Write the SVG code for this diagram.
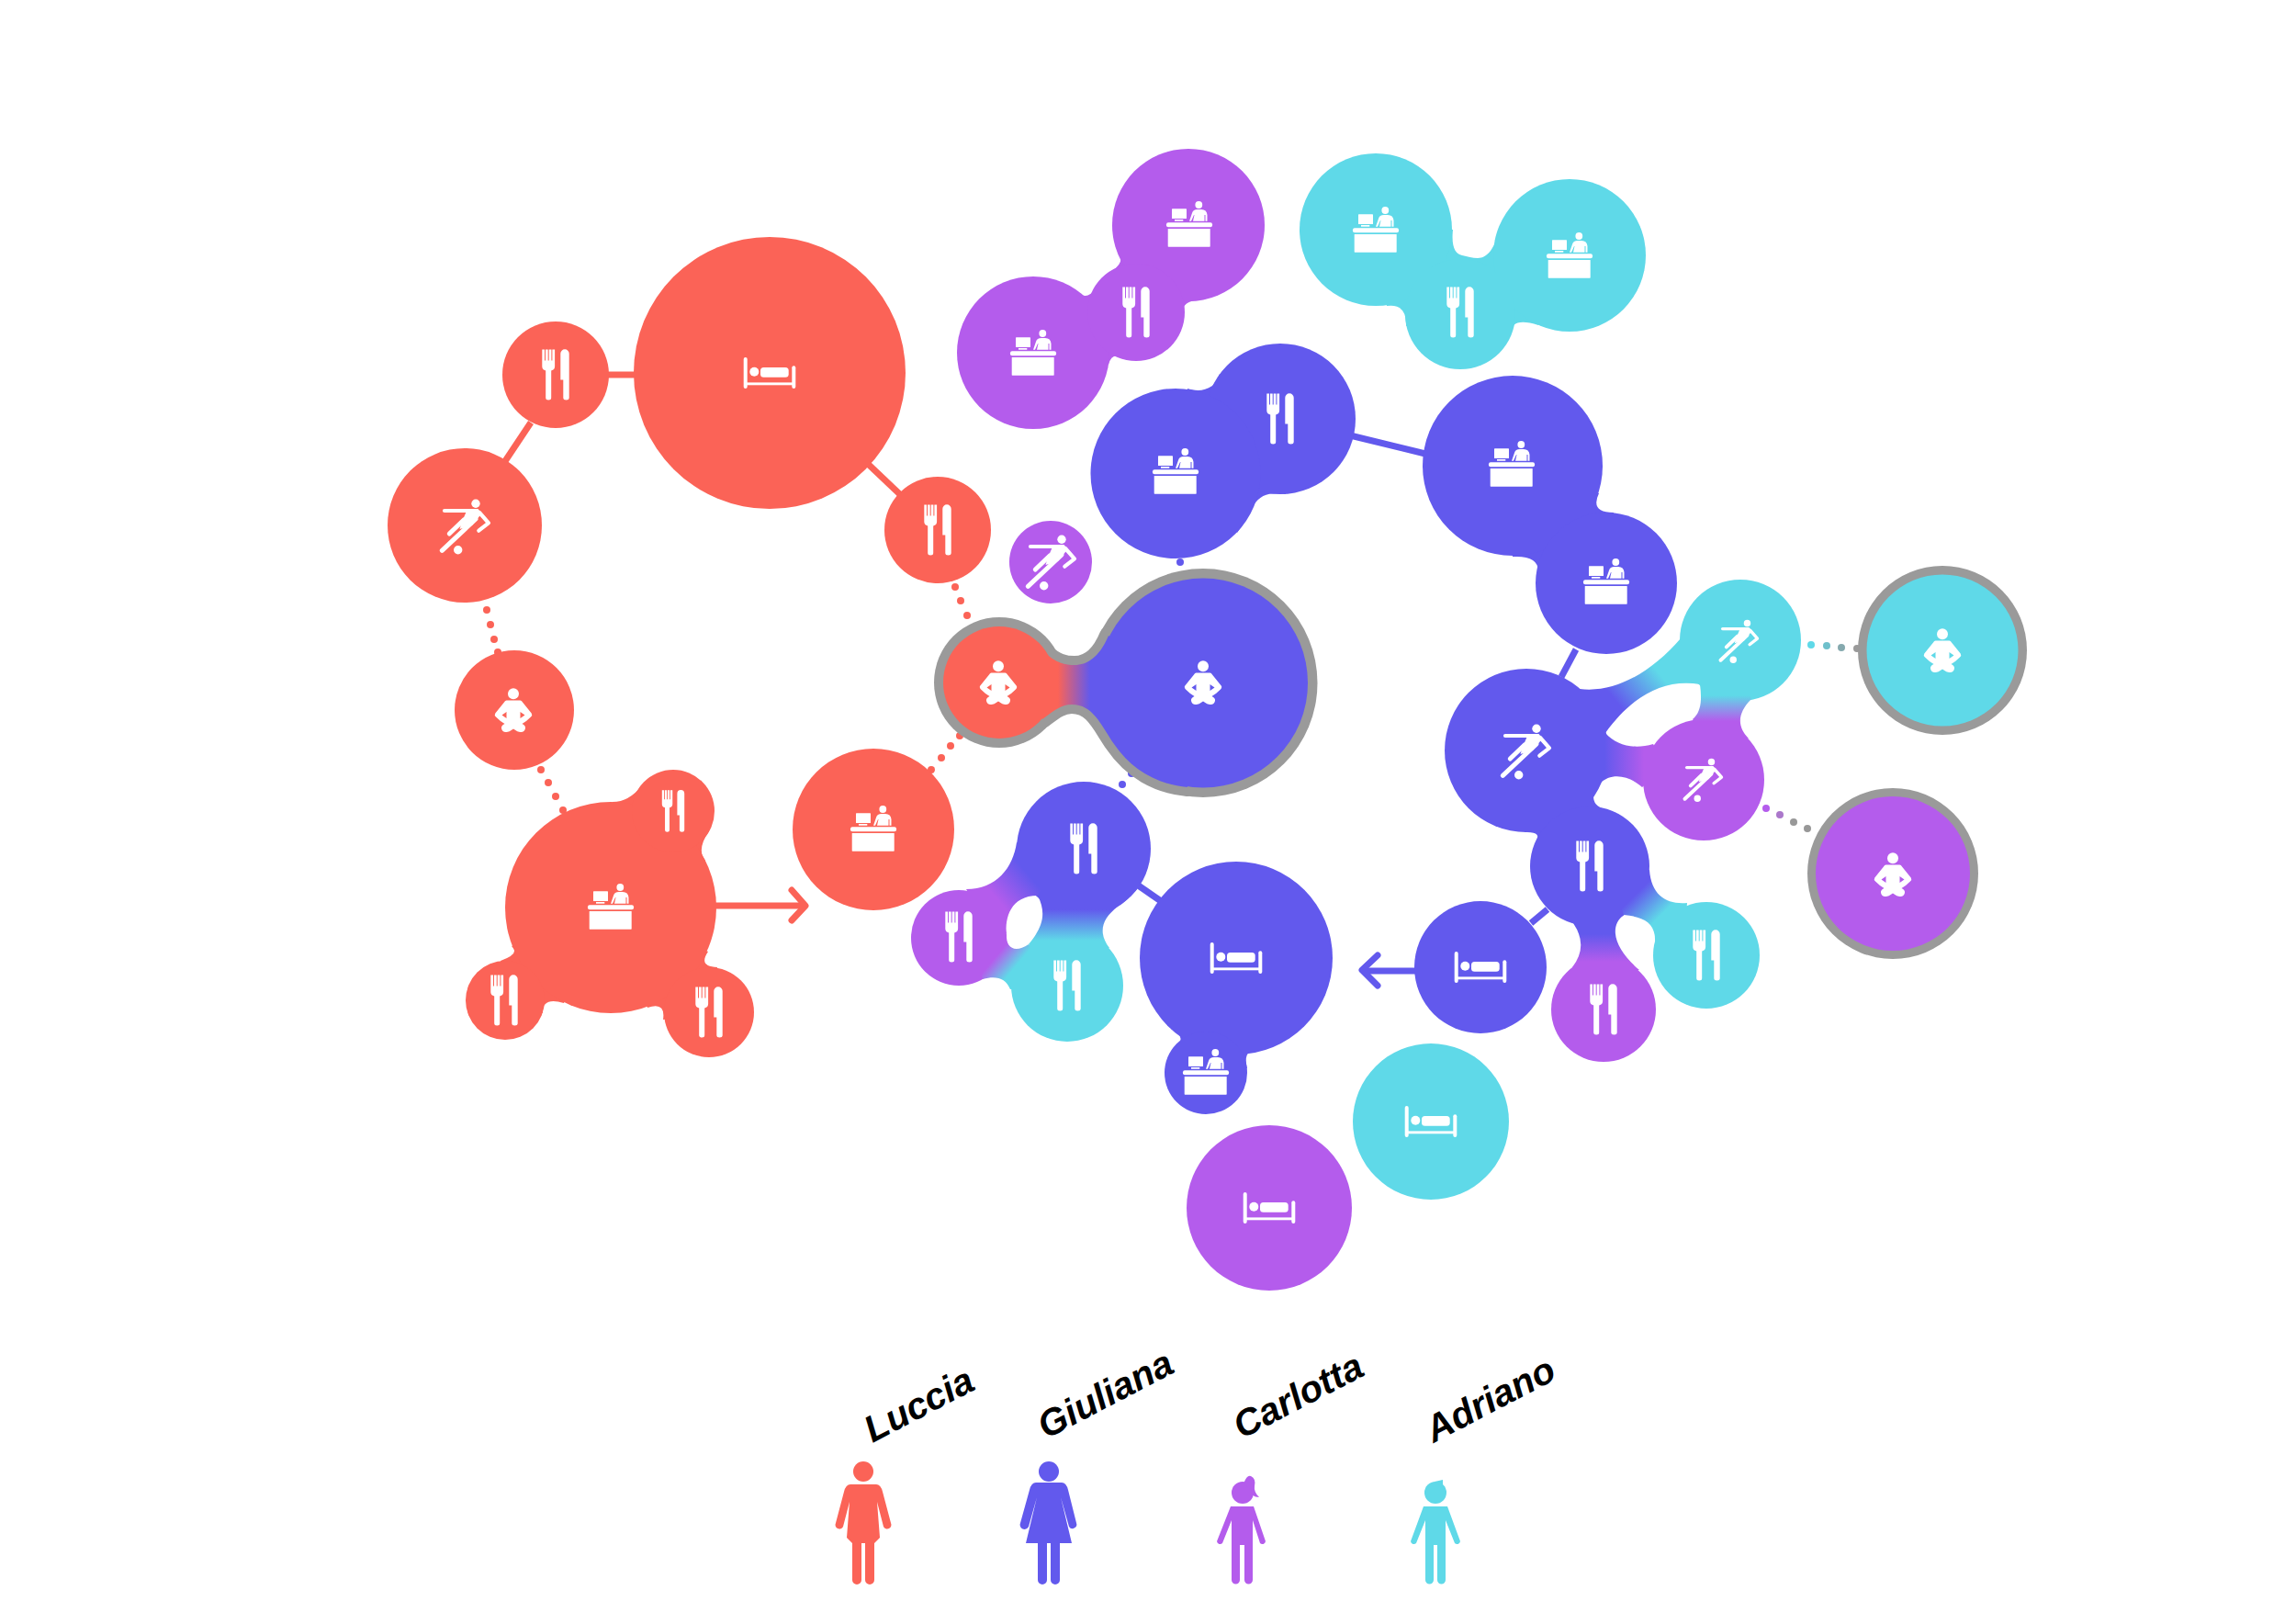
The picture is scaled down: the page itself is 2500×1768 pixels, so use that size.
<svg xmlns="http://www.w3.org/2000/svg" xmlns:xlink="http://www.w3.org/1999/xlink" width="2500" height="1768" viewBox="0 0 2500 1768">
<style>
.r{fill:#fb6357}.b{fill:#6259ed}.p{fill:#b45cec}.c{fill:#5fd9e8}
.lr,.lb{fill:none;stroke-width:7;stroke-linecap:butt}
.lr{stroke:#fb6357}.lb{stroke:#6259ed}
.ah{fill:none;stroke-width:7;stroke-linecap:round;stroke-linejoin:round}
.halo{fill:#9a9a9a;stroke:#9a9a9a;stroke-width:20;stroke-linejoin:round}
.ic{fill:#fff}
.sk{fill:none;stroke:#fff;stroke-width:4.2;stroke-linecap:round;stroke-linejoin:round}
.nm{font-family:"Liberation Sans",Arial,sans-serif;font-weight:700;font-style:italic;font-size:40.5px;fill:#000}
</style>
<defs>
<g id="fork" class="ic">
<path d="M-14.7-27.500h2.700v12h1v-12h2.700v12h1v-12h2.700v12h1v-12h2.700v18.500q0 3.500-3.900 4.500v29.500q0 2.500-3 2.500t-3-2.500v-29.500q-3.900-1-3.900-4.500z"/>
<path d="M5.300-23a4.700 4.700 0 0 1 9.400 0V25a3.200 2.500 0 0 1-6.400 0V5.500H5.300z"/>
</g>
<g id="bed" class="ic">
<rect x="-28.3" y="-17" width="4" height="34" rx="2"/>
<rect x="24.3" y="-7.7" width="4" height="24.7" rx="2"/>
<rect x="-26" y="10.4" width="52" height="2.9"/>
<circle cx="-16.7" cy="-1.3" r="5"/>
<rect x="-10" y="-6" width="30.7" height="10.7" rx="3.5"/>
</g>
<g id="desk" class="ic">
<rect x="-25" y="-1.7" width="50" height="5" rx="2"/>
<rect x="-23.3" y="5" width="46" height="19.7" rx=".6"/>
<circle cx="10.3" cy="-21" r="3.9"/>
<path d="M0-3.300 3-12Q4-16 9-16H13Q19-16 19.500-10V-3.300H17.500V-10H16.500V-3.300H4L5.500-10H5L2-3.300Z"/>
<rect x="-19" y="-16.7" width="16" height="10.7" rx=".6"/>
<rect x="-16" y="-5" width="9.3" height="1.7"/>
</g>
<g id="kick">
<circle class="ic" cx="12" cy="-24.7" r="4.700"/>
<circle class="ic" cx="-7.3" cy="25.7" r="4.700"/>
<path class="sk" d="M-22-17H8"/>
<path class="sk" d="M16-15 26-3.700 15.300 4.700"/>
<path class="sk" style="stroke-width:5" d="M12-8-24.700 26.300"/>
<path class="sk" style="stroke-width:5" d="M-1-7-16.700 8"/>
<path class="ic" d="M3-19H14.500L18.500-14 8-1-5.500 3-3-5Z"/>
</g>
<g id="sit" class="ic">
<circle cx="0" cy="-17.7" r="6"/>
<path fill-rule="evenodd" d="M-7.500-10.500H7.500Q9-10.500 10-8.500L19.700 3.500Q21 5.500 19 7.500L14 12Q11 14 9.500 15 13.500 17 13 20 12 24.500 7.500 24 5 24 0 20.500-5 24-7.500 24-12 24.500-13 20-13.500 17-9.500 15-11 14-14 12L-19 7.500Q-21 5.500-19.700 3.500L-10-8.500Q-9-10.500-7.500-10.500ZM7.500 2 12.500 5.500 7.500 9ZM-7.500 2-12.500 5.500-7.500 9Z"/>
</g>
<linearGradient id="gRB" gradientUnits="userSpaceOnUse" x1="1152" y1="0" x2="1187" y2="0"><stop offset="0" stop-color="#fb6357"/><stop offset="1" stop-color="#6259ed"/></linearGradient>
<linearGradient id="gPB1" gradientUnits="userSpaceOnUse" x1="1085" y1="978" x2="1118" y2="950"><stop offset="0" stop-color="#b45cec"/><stop offset="1" stop-color="#6259ed"/></linearGradient>
<linearGradient id="gBC1" gradientUnits="userSpaceOnUse" x1="0" y1="990" x2="0" y2="1024"><stop offset="0" stop-color="#6259ed"/><stop offset="1" stop-color="#5fd9e8"/></linearGradient>
<linearGradient id="gPC1" gradientUnits="userSpaceOnUse" x1="1088" y1="1037" x2="1106" y2="1052"><stop offset="0" stop-color="#b45cec"/><stop offset="1" stop-color="#5fd9e8"/></linearGradient>
<linearGradient id="gBC2" gradientUnits="userSpaceOnUse" x1="1765" y1="770" x2="1808" y2="735"><stop offset="0" stop-color="#6259ed"/><stop offset="1" stop-color="#5fd9e8"/></linearGradient>
<linearGradient id="gCP2" gradientUnits="userSpaceOnUse" x1="0" y1="757" x2="0" y2="785"><stop offset="0" stop-color="#5fd9e8"/><stop offset="1" stop-color="#b45cec"/></linearGradient>
<linearGradient id="gBP2" gradientUnits="userSpaceOnUse" x1="1747" y1="0" x2="1790" y2="0"><stop offset="0" stop-color="#6259ed"/><stop offset="1" stop-color="#b45cec"/></linearGradient>
<linearGradient id="gBP3" gradientUnits="userSpaceOnUse" x1="0" y1="1017" x2="0" y2="1047"><stop offset="0" stop-color="#6259ed"/><stop offset="1" stop-color="#b45cec"/></linearGradient>
<linearGradient id="gBC3" gradientUnits="userSpaceOnUse" x1="1780" y1="975" x2="1805" y2="1000"><stop offset="0" stop-color="#6259ed"/><stop offset="1" stop-color="#5fd9e8"/></linearGradient>
</defs>
<rect width="2500" height="1768" fill="#fff"/>

<g id="connectors">
<g id="dots">
<g class="r">
<circle cx="530" cy="664" r="4"/><circle cx="534" cy="680" r="4"/><circle cx="538" cy="696" r="4"/><circle cx="542" cy="710" r="4"/>
<circle cx="589" cy="838" r="4"/><circle cx="597" cy="852" r="4"/><circle cx="605" cy="867" r="4"/><circle cx="613" cy="882" r="4"/>
<circle cx="1040" cy="639" r="4"/><circle cx="1046" cy="654" r="4"/><circle cx="1053" cy="670" r="4"/>
<circle cx="1045" cy="801" r="4"/><circle cx="1035" cy="812" r="4"/><circle cx="1025" cy="825" r="4"/><circle cx="1014" cy="838" r="4"/>
</g>
<g class="b">
<circle cx="1285" cy="612" r="4"/><circle cx="1232" cy="842" r="4"/><circle cx="1222" cy="854" r="4"/>
</g>
<circle cx="1972" cy="702" r="4" fill="#5fd9e8"/><circle cx="1989" cy="703" r="4" fill="#6fc0cb"/><circle cx="2005" cy="705" r="4" fill="#85a9ae"/><circle cx="2022" cy="706" r="4" fill="#9a9a9a"/>
<circle cx="1923" cy="880" r="4" fill="#b45cec"/><circle cx="1938" cy="887" r="4" fill="#ab78cb"/><circle cx="1953" cy="895" r="4" fill="#989898"/><circle cx="1968" cy="902" r="4" fill="#989898"/>
</g>
<g id="links">
<path class="lr" d="M660 408H692"/>
<path class="lr" d="M550 502 578 460"/>
<path class="lr" d="M945 505 985 543"/>
<path class="lb" d="M1470 474 1552 494"/>
<path class="lb" d="M1716 707 1700 737"/>
<path class="lb" d="M1685 990 1667 1005"/>
<path class="lb" d="M1238 963 1264 981"/>
<path class="lr" d="M778 986H874"/>
<path class="ah" stroke="#fb6357" d="M862 969 877 986 862 1002"/>
<path class="lb" d="M1543 1057H1484"/>
<path class="ah" stroke="#6259ed" d="M1500 1040 1483 1056 1500 1073"/>
</g>
</g>

<g id="halo-outline">
<circle class="halo" style="stroke-width:0" cx="1088" cy="743" r="71"/>
<circle class="halo" style="stroke-width:0" cx="1310" cy="743.500" r="124.500"/>
<path class="halo" d="M1137 710C1150 722 1160 724 1170 724 1183 724 1197 716 1207 692L1310 743 1293 857C1260 854 1232 838 1213 810 1198 788 1190 767 1167 767 1155 767 1147 774 1135 783L1088 743Z"/>
<circle cx="2115" cy="708" r="92" fill="#9a9a9a"/>
<circle cx="2061" cy="951" r="93" fill="#9a9a9a"/>
</g>

<g id="necks">
<path class="r" d="M667 873Q685 873 699 855L772 905Q758 925 768 937L665 988Z"/>
<path class="r" d="M545 1046Q567 1038 557 1030L665 988 614 1092Q590 1085 591 1103L550 1089Z"/>
<path class="r" d="M722 1110Q725 1090 705 1097L665 988 771 1036C763 1048 768 1052 781 1053L772 1102Z"/>
<path class="p" d="M1173 317Q1183 328 1192 315L1237 340 1227 392Q1211 381 1207 397L1125 384Z"/>
<path class="p" d="M1211 295Q1227 284 1216 272L1294 245 1306 326Q1282 329 1289 347L1237 340Z"/>
<path class="c" d="M1582 250C1580 270 1585 276 1592 278 1598 279 1603 281 1609 281 1620 281 1626 270 1631 257L1709 278 1675 354Q1644 344 1645 365L1590 342 1531 355Q1532 330 1510 333L1498 250Z"/>
<path class="b" d="M1293 423C1300 425 1310 427 1320 420 1324 416 1326 412 1328 407L1394 456 1400 538C1385 535 1372 538 1365 550 1360 560 1355 570 1347 580L1280 515Z"/>
<path class="b" d="M1741 537Q1731 558 1757 558L1749 635 1672 635Q1684 604 1647 606V507Z"/>
<path class="b" d="M1275 1120Q1295 1130 1277 1143L1313 1168 1358 1163Q1353 1142 1368 1145L1346 1043Z"/>
<path class="b" d="M1660 906Q1680 905 1672 917L1731 943 1760 885Q1722 878 1742 853L1662 817Z"/>
</g>

<g id="n-red-bed"><circle class="r" cx="838" cy="406" r="148"/><use href="#bed" x="838" y="406"/></g>
<g id="n-red-fork-a"><circle class="r" cx="605" cy="408" r="58"/><use href="#fork" x="605" y="408"/></g>
<g id="n-red-kick"><circle class="r" cx="506" cy="572" r="84"/><use href="#kick" x="506" y="573"/></g>
<g id="n-red-fork-b"><circle class="r" cx="1021" cy="577" r="58"/><use href="#fork" x="1021" y="577"/></g>
<g id="n-red-sit"><circle class="r" cx="560" cy="773" r="65"/><use href="#sit" x="559" y="773"/></g>
<g id="n-red-desk-a"><circle class="r" cx="665" cy="988" r="115"/><use href="#desk" x="665" y="987"/></g>
<g id="n-red-fork-c"><circle class="r" cx="733" cy="883" r="45"/><use href="#fork" transform="translate(733 883) scale(.83)"/></g>
<g id="n-red-fork-d"><circle class="r" cx="550" cy="1089" r="43"/><use href="#fork" x="549" y="1089"/></g>
<g id="n-red-fork-e"><circle class="r" cx="772" cy="1102" r="49"/><use href="#fork" x="772" y="1102"/></g>
<g id="n-red-desk-b"><circle class="r" cx="951" cy="903" r="88"/><use href="#desk" x="951" y="902"/></g>
<g id="n-red-sit-b"><circle class="r" cx="1088" cy="743" r="61"/><use href="#sit" x="1087" y="743"/></g>
<g id="n-blue-sit"><circle class="b" cx="1310" cy="743.500" r="114"/><use href="#sit" x="1310" y="743"/></g>
<g id="n-purple-kick"><circle class="p" cx="1144" cy="612" r="45"/><use href="#kick" x="1144" y="612"/></g>

<g id="n-purple-desk-a"><circle class="p" cx="1294" cy="245" r="83"/><use href="#desk" x="1295" y="244"/></g>
<g id="n-purple-desk-b"><circle class="p" cx="1125" cy="384" r="83"/><use href="#desk" x="1125" y="384"/></g>
<g id="n-purple-fork"><circle class="p" cx="1237" cy="340" r="53"/><use href="#fork" x="1237" y="340"/></g>
<g id="n-cyan-desk-a"><circle class="c" cx="1498" cy="250" r="83"/><use href="#desk" x="1498" y="250"/></g>
<g id="n-cyan-desk-b"><circle class="c" cx="1709" cy="278" r="83"/><use href="#desk" x="1709" y="278"/></g>
<g id="n-cyan-fork"><circle class="c" cx="1590" cy="342" r="60"/><use href="#fork" x="1590" y="340"/></g>

<g id="n-blue-fork-a"><circle class="b" cx="1394" cy="456" r="82"/><use href="#fork" x="1394" y="456"/></g>
<g id="n-blue-desk-a"><circle class="b" cx="1280" cy="515.500" r="92.500"/><use href="#desk" x="1280" y="513"/></g>
<g id="n-blue-desk-b"><circle class="b" cx="1647" cy="507" r="98"/><use href="#desk" x="1646" y="505"/></g>
<g id="n-blue-desk-c"><circle class="b" cx="1749" cy="635" r="77"/><use href="#desk" x="1749" y="633"/></g>

<g id="n-cyan-kick"><circle class="c" cx="1895" cy="697" r="66"/><use href="#kick" transform="translate(1893 698) scale(.79)"/></g>
<g id="n-cyan-sit"><circle class="c" cx="2115" cy="708" r="82.500"/><use href="#sit" x="2115" y="708"/></g>
<g id="n-blue-kick"><circle class="b" cx="1662" cy="817" r="89"/><use href="#kick" x="1661" y="818"/></g>
<g id="n-purple-kick-b"><circle class="p" cx="1855" cy="849" r="66"/><use href="#kick" transform="translate(1854 849) scale(.79)"/></g>
<g id="n-purple-sit"><circle class="p" cx="2061" cy="951" r="84"/><use href="#sit" x="2061" y="952"/></g>
<g id="n-blue-fork-b"><circle class="b" cx="1731" cy="943" r="65"/><use href="#fork" x="1731" y="943"/></g>
<g id="n-purple-fork-b"><circle class="p" cx="1746" cy="1099" r="57"/><use href="#fork" x="1746" y="1099"/></g>
<g id="n-cyan-fork-b"><circle class="c" cx="1858" cy="1040" r="58"/><use href="#fork" x="1858" y="1040"/></g>
<g id="n-blue-bed-b"><circle class="b" cx="1612" cy="1053" r="72"/><use href="#bed" x="1612" y="1053"/></g>

<g id="n-blue-fork-c"><circle class="b" cx="1180" cy="924" r="73"/><use href="#fork" x="1180" y="924"/></g>
<g id="n-purple-fork-c"><circle class="p" cx="1044" cy="1021" r="52"/><use href="#fork" x="1044" y="1020"/></g>
<g id="n-cyan-fork-c"><circle class="c" cx="1162" cy="1073" r="61"/><use href="#fork" x="1162" y="1073"/></g>
<g id="n-blue-bed"><circle class="b" cx="1346" cy="1043" r="105"/><use href="#bed" x="1346" y="1043"/></g>
<g id="n-blue-desk-d"><circle class="b" cx="1313" cy="1168" r="45"/><use href="#desk" x="1313" y="1167"/></g>
<g id="n-cyan-bed"><circle class="c" cx="1558" cy="1221" r="85"/><use href="#bed" x="1558" y="1221"/></g>
<g id="n-purple-bed"><circle class="p" cx="1382" cy="1315" r="90"/><use href="#bed" x="1382" y="1315"/></g>

<g id="gradient-necks">
<path fill="url(#gRB)" d="M1137 710C1150 722 1160 724 1170 724 1183 724 1197 716 1207 692L1270 743 1293 857C1260 854 1232 838 1213 810 1198 788 1190 767 1167 767 1155 767 1147 774 1135 783L1115 743Z"/>
<path fill="url(#gPB1)" d="M1107 917C1103 945 1085 968 1052 968L1072 1000 1096 1017C1094 1000 1100 975 1130 975L1150 940Z"/>
<path fill="url(#gBC1)" d="M1130 975C1140 995 1135 1010 1120 1028L1162 1040 1208 1032C1195 1015 1200 1000 1217 987 1225 982 1232 975 1238 968L1180 956Z"/>
<path fill="url(#gPC1)" d="M1096 1017C1095 1032 1105 1038 1120 1028L1140 1075 1100 1077C1095 1065 1085 1062 1070 1066L1062 1030Z"/>
<path fill="url(#gBC2)" d="M1720 750C1760 755 1800 730 1830 695L1860 720 1851 745C1810 738 1775 760 1748 798L1700 790Z"/>
<path fill="url(#gCP2)" d="M1851 745C1853 760 1853 775 1843 783L1850 795 1904 804C1890 790 1893 775 1907 761L1895 735Z"/>
<path fill="url(#gBP2)" d="M1748 798C1760 812 1780 816 1800 810L1815 835 1788 857C1775 845 1755 840 1742 853L1710 830Z"/>
<path fill="url(#gBP3)" d="M1713 1005Q1730 1030 1712 1053L1746 1062 1785 1056C1760 1035 1750 1010 1768 996L1731 978Z"/>
<path fill="url(#gBC3)" d="M1796 947C1798 975 1815 985 1837 983L1835 1010 1802 1025C1803 1005 1790 998 1768 996L1755 955Z"/>
</g>

<g id="legend">
<g id="p-luccia" class="r">
<circle cx="940" cy="1602" r="11"/>
<path d="M926 1616H954Q959 1616 961 1624L970 1658A4 4 0 0 1 962 1662L955 1635 958 1674 952 1680V1720A5 5 0 0 1 942 1720V1680H938V1720A5 5 0 0 1 928 1720V1680L922 1674 925 1635 918 1662A4 4 0 0 1 910 1658L919 1624Q921 1616 926 1616Z"/>
</g>
<g id="p-giuliana" class="b">
<circle cx="1142" cy="1602" r="11"/>
<path d="M1128 1614H1156Q1161 1614 1163 1622L1172 1658A4.500 4.500 0 0 1 1164 1662L1155 1630 1167 1680H1154V1720A5 5 0 0 1 1144 1720V1680H1140V1720A5 5 0 0 1 1130 1720V1680H1117L1129 1630 1120 1662A4.500 4.500 0 0 1 1111 1658L1121 1622Q1123 1614 1128 1614Z"/>
</g>
<g id="p-carlotta" class="p">
<circle cx="1353" cy="1625" r="12"/>
<path d="M1354 1615Q1358 1605 1362 1607 1368 1610 1366 1618 1365 1624 1371 1630 1362 1630 1362 1622Z"/>
<path d="M1340 1640H1365L1378 1678A3.500 3.500 0 0 1 1372 1680L1364 1655V1720A4.500 4.500 0 0 1 1355 1720V1682H1350V1720A4.500 4.500 0 0 1 1341 1720V1655L1331 1680A3.500 3.500 0 0 1 1325 1678Z"/>
</g>
<g id="p-adriano" class="c">
<circle cx="1563" cy="1625" r="12"/>
<path d="M1562 1613 1571 1611 1571 1620Z"/>
<path d="M1550 1640H1576L1590 1678A3.500 3.500 0 0 1 1584 1680L1574 1655V1720A4.500 4.500 0 0 1 1565 1720V1682H1561V1720A4.500 4.500 0 0 1 1552 1720V1655L1542 1680A3.500 3.500 0 0 1 1536 1678Z"/>
</g>
<text class="nm" transform="translate(950 1571) rotate(-27.500)">Luccia</text>
<text class="nm" transform="translate(1139 1567) rotate(-27.500)">Giuliana</text>
<text class="nm" transform="translate(1352 1567) rotate(-27.500)">Carlotta</text>
<text class="nm" transform="translate(1561 1571) rotate(-27.500)">Adriano</text>
</g>
</svg>
